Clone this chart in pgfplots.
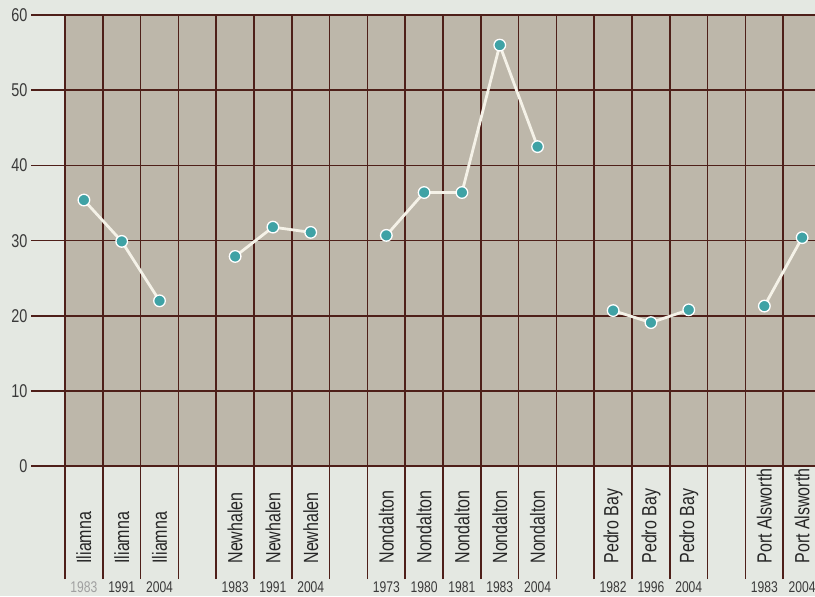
\documentclass[border=0pt]{standalone}
\usepackage{fontspec}
\setmainfont{Liberation Sans}[FakeStretch=0.78]
\usepackage{pgfplots}
\pgfplotsset{compat=1.18}

\definecolor{pagebg}{HTML}{E4E8E2}
\definecolor{plotbg}{HTML}{BDB7AA}
\definecolor{gridbrown}{HTML}{4E1F19}
\definecolor{linecream}{HTML}{F5F2E8}
\definecolor{dotteal}{HTML}{3FA2A5}
\definecolor{labelgray}{HTML}{262626}
\definecolor{yeargray}{HTML}{3A3A3A}
\definecolor{fadedgray}{HTML}{A0A0A0}

\newcommand{\nm}[1]{{\fontsize{20.5}{20.5}\selectfont\color{labelgray}#1}}

\pgfplotsset{
  town/.style={color=linecream, line width=2.8pt, mark=*, mark size=5.8pt,
    mark options={fill=dotteal, draw=white, line width=1.3pt}},
}

\begin{document}
\begin{tikzpicture}
\begin{axis}[
  set layers,
  scale only axis,
  width=756pt, height=564pt,
  xmin=0, xmax=20, ymin=-15, ymax=60,
  clip=false,
  axis line style={draw=none},
  ytick={0,10,...,60},
  ymajorgrids,
  major grid style={gridbrown, line width=1.6pt},
  minor grid style={gridbrown, line width=1.6pt},
  minor xtick={0,1,...,20},
  xminorgrids,
  minor tick length=0pt,
  tick align=outside,
  ytick pos=left,
  xtick pos=bottom,
  major tick length=34pt,
  ytick style={gridbrown, line width=1.6pt},
  xtick style={draw=none},
  /pgf/number format/assume math mode=true,
  yticklabel style={font=\fontsize{18.5}{18.5}\selectfont, text=yeargray},
  xtick={0.5,1.5,2.5,4.5,5.5,6.5,8.5,9.5,10.5,11.5,12.5,14.5,15.5,16.5,18.5,19.5},
  xticklabels={\textcolor{fadedgray}{1983},1991,2004,1983,1991,2004,1973,1980,1981,1983,2004,1982,1996,2004,1983,2004},
  xticklabel style={font=\fontsize{15.5}{15.5}\selectfont, text=yeargray, yshift=34.5pt},
  extra x ticks={0.5,1.5,2.5,4.5,5.5,6.5,8.5,9.5,10.5,11.5,12.5,14.5,15.5,16.5,18.5,19.5},
  extra x tick labels={\nm{Iliamna},\nm{Iliamna},\nm{Iliamna},\nm{Newhalen},\nm{Newhalen},\nm{Newhalen},\nm{Nondalton},\nm{Nondalton},\nm{Nondalton},\nm{Nondalton},\nm{Nondalton},\nm{Pedro Bay},\nm{Pedro Bay},\nm{Pedro Bay},\nm{Port Alsworth},\nm{Port Alsworth}},
  extra x tick style={xticklabel style={yshift=11.5pt, rotate=90, anchor=west}},
]
\begin{pgfonlayer}{axis background}
  \fill[pagebg] (axis cs:-1.72,62.0) rectangle (axis cs:21,-17.26);
  \fill[plotbg] (axis cs:0,0) rectangle (axis cs:20,60);
\end{pgfonlayer}
\coordinate (bbA) at (axis cs:-1.72,62.0);
\coordinate (bbB) at (axis cs:19.84,-17.26);

% Iliamna
\addplot[town] coordinates {(0.5,35.4) (1.5,29.9) (2.5,22.0)};
% Newhalen
\addplot[town] coordinates {(4.5,27.9) (5.5,31.8) (6.5,31.1)};
% Nondalton
\addplot[town] coordinates {(8.5,30.7) (9.5,36.4) (10.5,36.4) (11.5,56.0) (12.5,42.5)};
% Pedro Bay
\addplot[town] coordinates {(14.5,20.7) (15.5,19.1) (16.5,20.8)};
% Port Alsworth
\addplot[town] coordinates {(18.5,21.3) (19.5,30.4)};
\end{axis}
\pgfresetboundingbox
\path[use as bounding box] (bbA) rectangle (bbB);
\end{tikzpicture}
\end{document}
